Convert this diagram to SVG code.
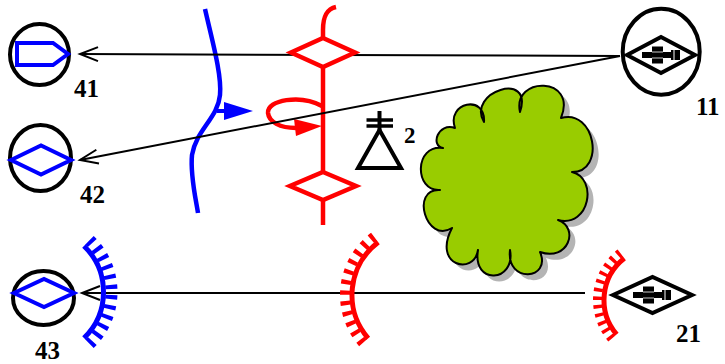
<svg xmlns="http://www.w3.org/2000/svg" width="725" height="364" viewBox="0 0 725 364">
  <style>
    .ring { fill: #fff; stroke: #000; stroke-width: 4; }
    .bsh { fill: #fff; stroke: #0000ff; stroke-width: 4; stroke-linejoin: miter; }
    .bln { fill: none; stroke: #0000ff; stroke-width: 4.5; stroke-linecap: butt; }
    .rln { fill: none; stroke: #ff0000; stroke-width: 4.5; }
    .rsh { fill: #fff; stroke: #ff0000; stroke-width: 4.5; }
    .kdia { fill: #fff; stroke: #000; stroke-width: 4; }
    .conn { fill: none; stroke: #000; stroke-width: 2; marker-end: url(#arr); }
    .lbl { font-family: "Liberation Serif", "Times New Roman", serif; font-weight: bold; font-size: 25px; fill: #000; }
    .lbl-s { font-family: "Liberation Serif", "Times New Roman", serif; font-weight: bold; font-size: 23px; fill: #000; }
    .teeth { fill: none; stroke-dasharray: 4 6; }
  </style>
  <defs>
    <marker id="arr" markerUnits="userSpaceOnUse" markerWidth="22" markerHeight="18" refX="19" refY="8" orient="auto" overflow="visible">
      <path d="M1,1 L19,8 L1,15" fill="none" stroke="#000" stroke-width="2"/>
    </marker>
    <!-- weapon glyph, centred on its diamond -->
    <g id="gun">
      <rect x="-19" y="-3" width="31" height="6" fill="#000"/>
      <rect x="-9" y="-8.5" width="11" height="17" fill="#000"/>
      <rect x="10" y="-5" width="9" height="10" fill="#000"/>
      <line x1="-9" y1="-3" x2="2" y2="-3" stroke="#fff" stroke-width="0.8"/>
      <line x1="-9" y1="3" x2="2" y2="3" stroke="#fff" stroke-width="0.8"/>
      <line x1="13" y1="-5" x2="13" y2="5" stroke="#fff" stroke-width="1"/>
    </g>
    <path id="woods-outline" d="M484,122 C466,92 534,70 520,112 C512,76 578,76 561,118 C595,108 606,172 572,172 C598,178 590,228 558,220 C580,228 568,262 540,252 C552,280 506,284 510,250 C516,282 472,286 478,250 C474,276 432,266 452,228 C426,244 410,188 440,190 C414,192 414,144 443,148 C430,146 438,122 455,128 C446,102 486,94 484,122 Z"/>
  </defs>

  <!-- terrain feature with drop shadow -->
  <g id="woods">
    <use href="#woods-outline" transform="translate(6,6)" fill="#b4b4b4"/>
    <use href="#woods-outline" fill="#99cc00" stroke="#000" stroke-width="2" stroke-linejoin="round"/>
  </g>

  <!-- blue boundary with advance arrow -->
  <g id="blue-line">
    <path class="bln" d="M205,9 C212,40 222,75 220,95 C218,118 196,130 192,155 C190,175 196,200 198,213"/>
    <line x1="217" y1="111" x2="226" y2="111" stroke="#0000ff" stroke-width="4"/>
    <polygon points="224,102 253,111 224,120" fill="#0000ff"/>
  </g>

  <!-- red axis line -->
  <g id="red-axis">
    <path class="rln" d="M336,7 C327,9 323,16 323,30 L323,225"/>
    <path class="rln" d="M322,106 C300,94 267,100 268,113 C269,122 280,128 296,128"/>
    <polygon points="294,119 322,126 296,136" fill="#ff0000"/>
  </g>

  <!-- connectors -->
  <g id="connectors">
    <path class="conn" d="M620,56 L80,54"/>
    <path class="conn" d="M620,56 L80,160"/>
    <path class="conn" d="M585,293 L82,293"/>
  </g>

  <!-- red axis diamonds drawn over the lines -->
  <g id="red-diamonds">
    <polygon class="rsh" points="323,38 355,52.5 323,67 291,52.5"/>
    <polygon class="rsh" points="323,172 356,186 323,200 290,186"/>
  </g>

  <!-- comb arcs -->
  <g id="arc-blue">
    <path d="M83.96,245.96 A64,64 0 0 1 83.96,338.04" fill="none" stroke="#0000ff" stroke-width="5"/>
    <path class="teeth" pathLength="114" d="M89.52,240.21 A72,72 0 0 1 89.52,343.79" stroke="#0000ff" stroke-width="12"/>
  </g>
  <g id="arc-red-mid">
    <path d="M368.19,338.3 A66,66 0 0 1 378.28,242.29" fill="none" stroke="#ff0000" stroke-width="5"/>
    <path class="teeth" pathLength="114" d="M362.91,342.89 A73,73 0 0 1 374.07,236.7" stroke="#ff0000" stroke-width="10"/>
  </g>
  <g id="arc-red-right">
    <path d="M616.7,334.42 A53,53 0 0 1 624.37,258.23" fill="none" stroke="#ff0000" stroke-width="5"/>
    <path class="teeth" pathLength="114" d="M611.76,338.64 A59.5,59.5 0 0 1 620.37,253.11" stroke="#ff0000" stroke-width="9"/>
  </g>

  <!-- unit 41 -->
  <g id="n41">
    <ellipse class="ring" cx="39.5" cy="54.5" rx="29.5" ry="30.5"/>
    <polygon class="bsh" points="17,43 53,43 68,54 53,65 17,65"/>
    <text class="lbl" x="74" y="97">41</text>
  </g>

  <!-- unit 42 -->
  <g id="n42">
    <ellipse class="ring" cx="40.5" cy="158" rx="30.5" ry="33"/>
    <polygon class="bsh" points="11,160 41,145.5 71,160 41,174.5"/>
    <text class="lbl" x="80" y="203">42</text>
  </g>

  <!-- unit 43 -->
  <g id="n43">
    <ellipse class="ring" cx="43.5" cy="298" rx="30.5" ry="27"/>
    <polygon class="bsh" points="14,293 44,279 74,293 44,307"/>
    <text class="lbl" x="35" y="359">43</text>
  </g>

  <!-- unit 11 -->
  <g id="n11">
    <ellipse class="ring" cx="661.2" cy="51.7" rx="38.5" ry="43"/>
    <polygon class="kdia" points="627,55 661,37 695,55 661,73"/>
    <use href="#gun" x="661" y="55"/>
    <text class="lbl" x="696" y="115">11</text>
  </g>

  <!-- unit 21 -->
  <g id="n21">
    <polygon class="kdia" points="613,295 652.5,277 692,295 652.5,313"/>
    <use href="#gun" x="652" y="295"/>
    <text class="lbl" x="676" y="342">21</text>
  </g>

  <!-- observation post 2 -->
  <g id="n2">
    <line x1="379.5" y1="111" x2="379.5" y2="131" stroke="#000" stroke-width="4"/>
    <line x1="366.5" y1="120" x2="393" y2="120" stroke="#000" stroke-width="3.5"/>
    <line x1="366.5" y1="126" x2="393" y2="126" stroke="#000" stroke-width="3.5"/>
    <polygon points="379.5,130 358,168 401,168" fill="none" stroke="#000" stroke-width="4"/>
    <text class="lbl-s" x="404" y="143">2</text>
  </g>
</svg>
